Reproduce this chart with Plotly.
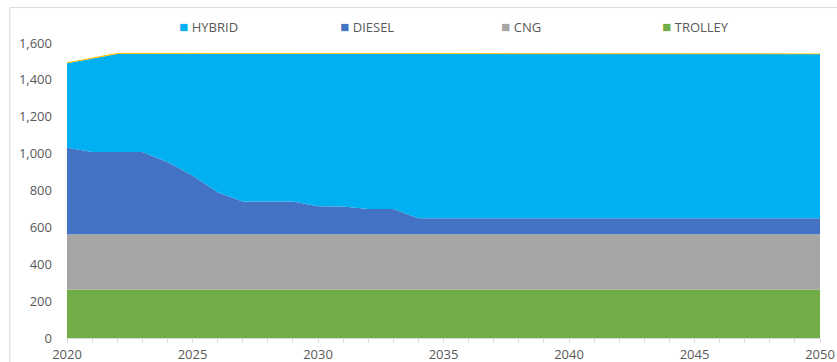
import plotly.graph_objects as go

years = list(range(2020, 2051))
trolley = [263] * 31
cng = [300] * 31
diesel_top = [1032, 1009, 1009, 1009, 955, 882, 790, 740, 740, 740, 715, 713, 700, 700, 650] + [650] * 16
total_top = [1490, 1515] + [1541] * 29
other = [3] * 19 + [0] * 12

diesel = [d - 563 for d in diesel_top]
hybrid = [t - d for t, d in zip(total_top, diesel_top)]

fig = go.Figure()
series = [
    ("TROLLEY", trolley, "#70AD47", True),
    ("CNG", cng, "#A5A5A5", True),
    ("DIESEL", diesel, "#4472C4", True),
    ("HYBRID", hybrid, "#00B0F0", True),
    ("OTHER", other, "#FFC000", False),
]
for name, vals, col, show in series:
    fig.add_trace(go.Scatter(
        x=years, y=vals, name=name, mode="lines", stackgroup="one",
        line=dict(width=0.8 if not show else 0, color=col), fillcolor=col,
        showlegend=False,
    ))

for name, vals, col, show in reversed(series):
    if show:
        fig.add_trace(go.Scatter(
            x=[None], y=[None], mode="markers",
            name=f"<span style='color:{col};font-size:15px'>■</span> {name}",
            marker=dict(symbol="square", size=1, color="rgba(0,0,0,0)"), showlegend=True,
        ))

fig.update_layout(
    width=837, height=362,
    margin=dict(l=67, r=17, t=43, b=24, autoexpand=False),
    paper_bgcolor="white", plot_bgcolor="white",
    font=dict(family="Open Sans", size=13, color="#595959"),
    legend=dict(orientation="h", x=0.096, y=1.055, xanchor="left", yanchor="middle",
                traceorder="normal",
                entrywidth=116, entrywidthmode="pixels", itemwidth=30,
                font=dict(size=13, color="#595959"), bgcolor="rgba(0,0,0,0)"),
    xaxis=dict(range=[2020, 2050], tickmode="array", tickvals=list(range(2020, 2051, 5)),
               showgrid=False, showline=True, linecolor="#D9D9D9", ticks="outside",
               ticklen=4, tickcolor="#D9D9D9",
               minor=dict(ticks="outside", dtick=1, ticklen=4, tickcolor="#D9D9D9"),
               zeroline=False),
    yaxis=dict(range=[0, 1600], dtick=200, tickformat=",", showgrid=True,
               gridcolor="#EDEDED", zeroline=False, ticklabelstandoff=14),
    shapes=[dict(type="rect", xref="paper", yref="paper", x0=-0.076, x1=1.03,
                 y0=-0.2, y1=1.12, line=dict(color="#D9D9D9", width=1), layer="below")],
)
fig.write_html("out.html")
